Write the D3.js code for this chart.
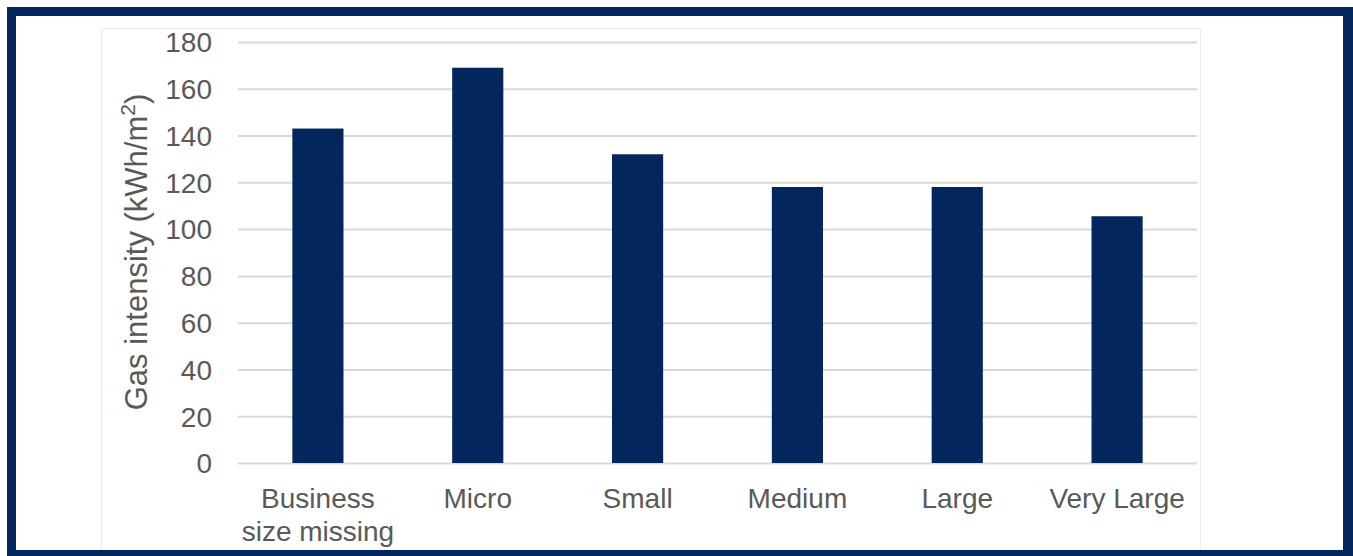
<!DOCTYPE html>
<html>
<head>
<meta charset="utf-8">
<script src="https://cdn.jsdelivr.net/npm/d3@7"></script>
<style>
  html, body { margin: 0; padding: 0; background: #ffffff; }
  svg { display: block; font-family: "Liberation Sans", Arial, sans-serif; }
</style>
</head>
<body>
<svg id="chart" width="1353" height="556"></svg>
<script>
// Gas intensity by business size
const categories = ["Business size missing", "Micro", "Small", "Medium", "Large", "Very Large"];
const gasIntensity = [143, 169, 132, 118, 118, 105.5];
const yTicks = [0, 20, 40, 60, 80, 100, 120, 140, 160, 180];
const yTitle = "Gas intensity (kWh/m";
const yTitleSup = "2";
const yTitleEnd = ")";

const navy = "#03275c";
const textGrey = "#595959";
const gridGrey = "#d9d9d9";

const svg = d3.select("#chart");

// Framed panel
svg.append("rect").attr("x", 7).attr("y", 7).attr("width", 1353).attr("height", 556).attr("fill", navy);
svg.append("rect").attr("x", 16).attr("y", 16).attr("width", 1327).attr("height", 534).attr("fill", "#ffffff");

// Chart area outline (runs under the bottom edge of the frame)
svg.append("path")
  .attr("d", "M101.5,550 V28.5 H1200.5 V550")
  .attr("fill", "none").attr("stroke", "#ececec").attr("stroke-width", 1);

const plot = { left: 238, right: 1197, top: 42, bottom: 463 };

const x = d3.scaleBand()
  .domain(categories)
  .range([plot.left, plot.right])
  .paddingInner(0.68)
  .paddingOuter(0.34);

const y = d3.scaleLinear()
  .domain([0, 180])
  .range([plot.bottom, plot.top]);

// Y axis with full-width gridlines
const yAxis = svg.append("g")
  .attr("transform", `translate(${plot.left},0)`)
  .call(d3.axisLeft(y)
    .tickValues(yTicks)
    .tickSizeInner(-(plot.right - plot.left))
    .tickSizeOuter(0)
    .tickPadding(26));
yAxis.select(".domain").remove();
yAxis.selectAll(".tick line").attr("stroke", gridGrey).attr("stroke-width", 2);
yAxis.selectAll(".tick text")
  .attr("fill", textGrey)
  .attr("font-size", 28)
  .attr("dy", "0.35em");

// Bars
svg.append("g")
  .selectAll("rect")
  .data(categories)
  .join("rect")
  .attr("x", d => x(d))
  .attr("width", x.bandwidth())
  .attr("y", (d, i) => y(gasIntensity[i]))
  .attr("height", (d, i) => y(0) - y(gasIntensity[i]))
  .attr("fill", navy);

// X axis category labels, wrapped to the band width
const xAxis = svg.append("g")
  .attr("transform", `translate(0,${plot.bottom})`)
  .call(d3.axisBottom(x).tickSize(0).tickPadding(0));
xAxis.select(".domain").remove();
xAxis.selectAll(".tick text")
  .attr("fill", textGrey)
  .attr("font-size", 28)
  .attr("y", 45)
  .attr("dy", 0)
  .each(function(d) {
    const text = d3.select(this);
    const words = d.split(" ");
    const maxW = x.step();
    text.text(null);
    let line = [];
    let tspan = text.append("tspan").attr("x", 0).attr("dy", 0);
    for (const w of words) {
      line.push(w);
      tspan.text(line.join(" "));
      if (tspan.node().getComputedTextLength() > maxW && line.length > 1) {
        line.pop();
        tspan.text(line.join(" "));
        line = [w];
        tspan = text.append("tspan").attr("x", 0).attr("dy", 33).text(w);
      }
    }
  });

// Y axis title
const title = svg.append("text")
  .attr("transform", "translate(147,252) rotate(-90)")
  .attr("text-anchor", "middle")
  .attr("fill", textGrey)
  .attr("font-size", 31);
title.append("tspan").text(yTitle);
title.append("tspan").attr("font-size", 21).attr("dy", -12).text(yTitleSup);
title.append("tspan").attr("dy", 12).text(yTitleEnd);
</script>
</body>
</html>
